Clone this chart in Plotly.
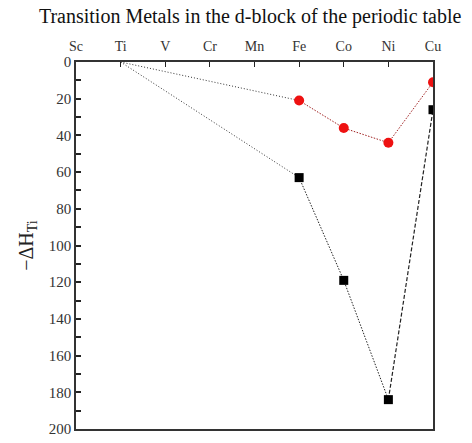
import plotly.graph_objects as go

elements = ["Sc", "Ti", "V", "Cr", "Mn", "Fe", "Co", "Ni", "Cu"]
series_x = ["Ti", "Fe", "Co", "Ni", "Cu"]
black_vals = [0, 63, 119, 184, 26]
red_vals = [0, 21, 36, 44, 11]

pos = {e: i for i, e in enumerate(elements)}
xs = [pos[e] for e in series_x]

FONT = "Liberation Serif, Times New Roman, serif"
fig = go.Figure()

# Dotted lead-in lines from Ti to Fe (both black)
for vals in (black_vals, red_vals):
    fig.add_trace(go.Scatter(x=xs[0:2], y=vals[0:2], mode="lines",
                             line=dict(color="#333", width=1, dash="1px,2px"),
                             showlegend=False, hoverinfo="skip"))

# Black series segments
fig.add_trace(go.Scatter(x=xs[1:4], y=black_vals[1:4], mode="lines",
                         line=dict(color="#222", width=1, dash="1.5px,1.5px"),
                         showlegend=False))
fig.add_trace(go.Scatter(x=xs[3:5], y=black_vals[3:5], mode="lines",
                         line=dict(color="#222", width=1.2, dash="4px,2px"),
                         showlegend=False))
# Red series segments
fig.add_trace(go.Scatter(x=xs[1:5], y=red_vals[1:5], mode="lines",
                         line=dict(color="#a02020", width=1, dash="1.5px,1.5px"),
                         showlegend=False))

# Markers
fig.add_trace(go.Scatter(x=xs[1:], y=black_vals[1:], mode="markers",
                         marker=dict(symbol="square", size=9, color="black"),
                         showlegend=False))
fig.add_trace(go.Scatter(x=xs[1:], y=red_vals[1:], mode="markers",
                         marker=dict(symbol="circle", size=10, color="#ee1111"),
                         showlegend=False))

fig.update_layout(
    width=472, height=443,
    margin=dict(l=76, r=39, t=62, b=6),
    paper_bgcolor="white", plot_bgcolor="white",
    font=dict(family=FONT, color="#222"),
    title=dict(text="Transition Metals in the d-block of the periodic table",
               x=0.53, xanchor="center", y=0.965, yanchor="middle",
               font=dict(family=FONT, size=20, color="#111")),
    xaxis=dict(side="top", range=[0, 8], tickvals=list(range(len(elements))),
               ticktext=elements, ticks="inside", ticklen=5, tickcolor="#222",
               showline=True, linecolor="#333", linewidth=1.5, mirror=True,
               showgrid=False, zeroline=False, ticklabelstandoff=4,
               tickfont=dict(family=FONT, size=14, color="#333")),
    yaxis=dict(range=[200, 0], tickvals=list(range(0, 201, 20)),
               ticks="inside", ticklen=5, tickwidth=1.5, tickcolor="#222",
               minor=dict(dtick=10, ticks="inside", ticklen=5, tickcolor="#222"),
               showline=True, linecolor="#333", linewidth=1.5, mirror=True,
               showgrid=False, zeroline=False, ticklabeloverflow="allow",
               tickfont=dict(family=FONT, size=15, color="#333"),
               title=dict(text="\u2212\u0394H<sub>Ti</sub>",
                          font=dict(family=FONT, size=20, color="#222"),
                          standoff=10)),
)

fig.write_html("out.html")
